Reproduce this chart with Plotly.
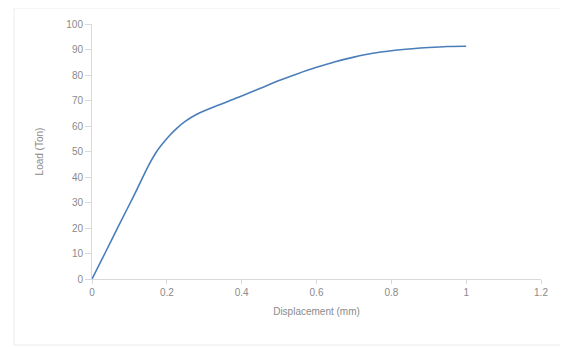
import plotly.graph_objects as go

displacement = [0.0, 0.035, 0.07, 0.115, 0.15, 0.172, 0.19, 0.208, 0.228, 0.25, 0.28, 0.32, 0.36, 0.4, 0.45, 0.5, 0.546, 0.6, 0.65, 0.7, 0.75, 0.8, 0.856, 0.9, 0.95, 1.0]
load = [0.0, 10.2, 20.5, 33.6, 44.2, 49.8, 53.3, 56.4, 59.3, 61.9, 64.6, 67.2, 69.4, 71.8, 74.8, 77.8, 80.3, 83.0, 85.2, 87.0, 88.5, 89.5, 90.3, 90.8, 91.2, 91.3]

x_ticks = [0, 0.2, 0.4, 0.6, 0.8, 1, 1.2]
x_labels = ["0", "0.2", "0.4", "0.6", "0.8", "1", "1.2"]
y_ticks = [0, 10, 20, 30, 40, 50, 60, 70, 80, 90, 100]

fig = go.Figure()
fig.add_trace(go.Scatter(x=displacement, y=load, mode="lines",
                         line=dict(color="#4a7ebb", width=1.6, shape="spline", smoothing=0.8),
                         showlegend=False))

font_col = "#8a8a8a"
fig.update_layout(
    width=560, height=339,
    margin=dict(l=84, r=27, t=16, b=68),
    paper_bgcolor="white", plot_bgcolor="white",
    font=dict(family="Liberation Sans, Arial, sans-serif", size=10, color=font_col),
    xaxis=dict(range=[0, 1.2], tickvals=x_ticks, ticktext=x_labels, automargin=False,
               showgrid=False, zeroline=False, showline=True, linecolor="#d9d9d9", linewidth=1,
               ticks="outside", ticklen=4, tickcolor="#d9d9d9",
               title=dict(text="Displacement (mm)", font=dict(size=10, color=font_col), standoff=10)),
    yaxis=dict(range=[0, 100], tickvals=y_ticks, automargin=False,
               showgrid=False, zeroline=False, showline=True, linecolor="#d9d9d9", linewidth=1,
               ticks="outside", ticklen=6, tickcolor="#d9d9d9",
               title=dict(text="Load (Ton)", font=dict(size=10, color=font_col), standoff=20)),
    shapes=[dict(type="rect", xref="paper", yref="paper",
                 x0=-78/449, x1=1 + 25/449, y0=-66/255, y1=1 + 16/255,
                 line=dict(color="#ececec", width=1))],
)

fig.write_html("out.html")
